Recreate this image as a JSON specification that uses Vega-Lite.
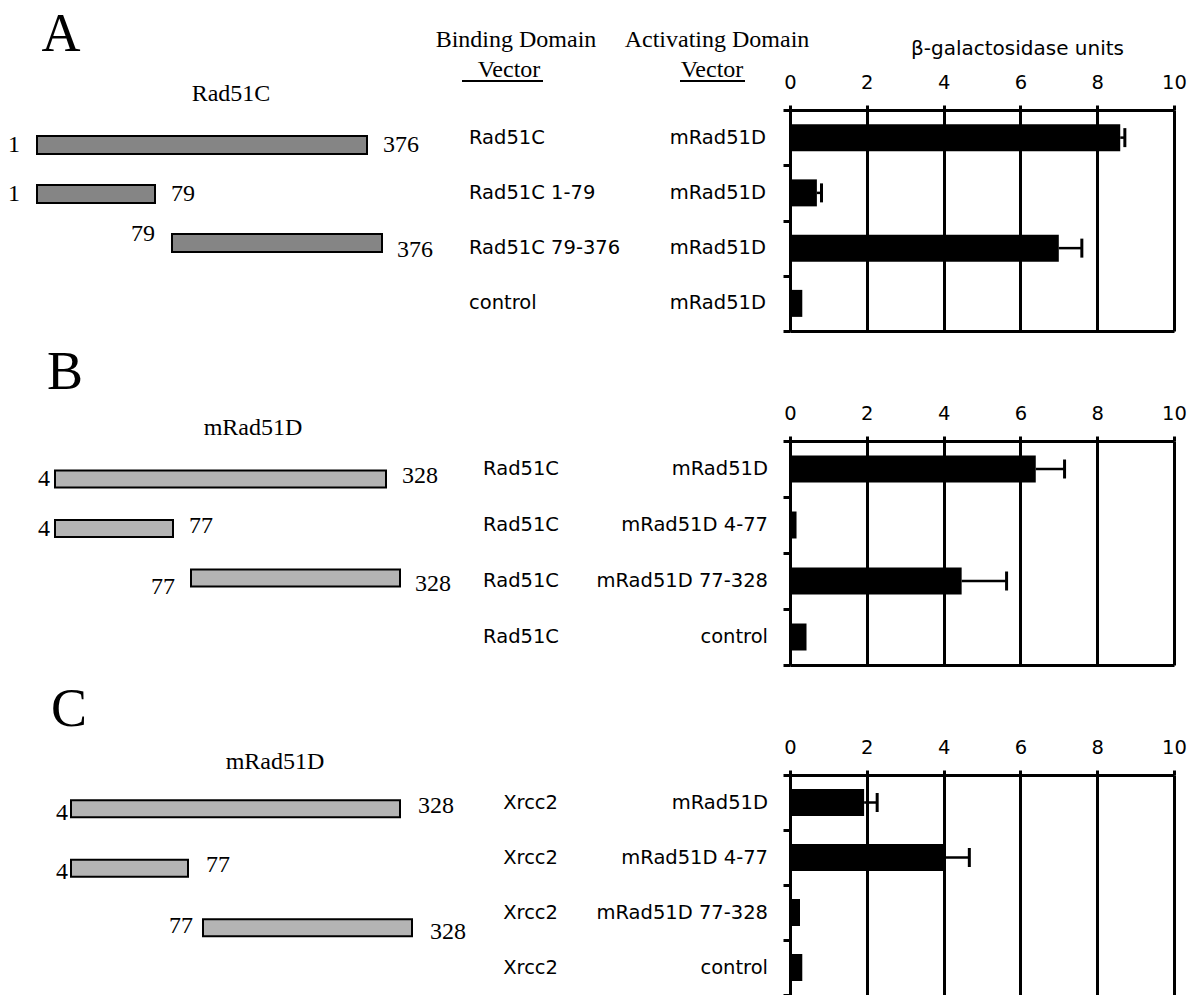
{
  "$schema": "https://vega.github.io/schema/vega-lite/v6.json",
  "width": 1194,
  "height": 995,
  "autosize": "none",
  "padding": 0,
  "background": "white",
  "config": {
    "view": {"stroke": null},
    "axis": {"domainColor": "black", "tickColor": "black", "labelColor": "black", "titleColor": "black"}
  },
  "datasets": {
    "bars": [
      {"panel": "A", "row": "1", "bd": "Rad51C", "ad": "mRad51D", "value": 8.6, "upper": 8.72},
      {"panel": "A", "row": "2", "bd": "Rad51C 1-79", "ad": "mRad51D", "value": 0.7, "upper": 0.82},
      {"panel": "A", "row": "3", "bd": "Rad51C 79-376", "ad": "mRad51D", "value": 7.0, "upper": 7.6},
      {"panel": "A", "row": "4", "bd": "control", "ad": "mRad51D", "value": 0.32, "upper": null},
      {"panel": "B", "row": "1", "bd": "Rad51C", "ad": "mRad51D", "value": 6.4, "upper": 7.15},
      {"panel": "B", "row": "2", "bd": "Rad51C", "ad": "mRad51D 4-77", "value": 0.17, "upper": null},
      {"panel": "B", "row": "3", "bd": "Rad51C", "ad": "mRad51D 77-328", "value": 4.47, "upper": 5.64},
      {"panel": "B", "row": "4", "bd": "Rad51C", "ad": "control", "value": 0.43, "upper": null},
      {"panel": "C", "row": "1", "bd": "Xrcc2", "ad": "mRad51D", "value": 1.93, "upper": 2.27},
      {"panel": "C", "row": "2", "bd": "Xrcc2", "ad": "mRad51D 4-77", "value": 3.99, "upper": 4.67},
      {"panel": "C", "row": "3", "bd": "Xrcc2", "ad": "mRad51D 77-328", "value": 0.26, "upper": null},
      {"panel": "C", "row": "4", "bd": "Xrcc2", "ad": "control", "value": 0.32, "upper": null}
    ],
    "frags": [
      {"panel": "A", "row": "1", "start": 1, "end": 376},
      {"panel": "A", "row": "2", "start": 1, "end": 79},
      {"panel": "A", "row": "3", "start": 79, "end": 376},
      {"panel": "B", "row": "1", "start": 4, "end": 328},
      {"panel": "B", "row": "2", "start": 4, "end": 77},
      {"panel": "B", "row": "3", "start": 77, "end": 328},
      {"panel": "C", "row": "1", "start": 4, "end": 328},
      {"panel": "C", "row": "2", "start": 4, "end": 77},
      {"panel": "C", "row": "3", "start": 77, "end": 328}
    ],
    "panels": [
      {"panel": "A", "protein": "Rad51C"},
      {"panel": "B", "protein": "mRad51D"},
      {"panel": "C", "protein": "mRad51D"}
    ],
    "headers": [
      {"col": "BD", "line": "1", "text": "Binding Domain"},
      {"col": "BD", "line": "2", "text": "Vector"},
      {"col": "AD", "line": "1", "text": "Activating Domain"},
      {"col": "AD", "line": "2", "text": "Vector"}
    ]
  },
  "resolve": {
    "scale": {"x": "independent", "y": "independent", "size": "independent"},
    "axis": {"x": "independent", "y": "independent"}
  },
  "layer": [
    {
      "data": {"name": "panels"},
      "mark": {"type": "text", "font": "Liberation Serif", "fontSize": 54, "baseline": "alphabetic", "align": "center", "color": "black"},
      "encoding": {
        "x": {"field": "panel", "type": "nominal", "scale": {"type": "point", "domain": ["A", "B", "C"], "range": [61, 69], "padding": 0}, "axis": null},
        "y": {"field": "panel", "type": "nominal", "scale": {"type": "point", "domain": ["A", "B", "C"], "range": [51, 726], "padding": 0}, "axis": null},
        "text": {"field": "panel"}
      }
    },
    {
      "data": {"name": "panels"},
      "mark": {"type": "text", "font": "Liberation Serif", "fontSize": 24, "baseline": "middle", "align": "center", "color": "black"},
      "encoding": {
        "x": {"field": "panel", "type": "nominal", "scale": {"type": "point", "domain": ["A", "B", "C"], "range": [231, 275], "padding": 0}, "axis": null},
        "y": {"field": "panel", "type": "nominal", "scale": {"type": "point", "domain": ["A", "B", "C"], "range": [94, 762], "padding": 0}, "axis": null},
        "text": {"field": "protein"}
      }
    },
    {
      "data": {"name": "headers"},
      "transform": [{"filter": "datum.line === '1'"}],
      "mark": {"type": "text", "font": "Liberation Serif", "fontSize": 24, "baseline": "alphabetic", "align": "center", "color": "black"},
      "encoding": {
        "x": {"field": "col", "type": "nominal", "scale": {"type": "point", "domain": ["BD", "AD"], "range": [516, 717], "padding": 0}, "axis": null},
        "y": {"field": "line", "type": "nominal", "scale": {"type": "point", "domain": ["1", "2"], "range": [47, 77], "padding": 0}, "axis": null},
        "text": {"field": "text"}
      }
    },
    {
      "data": {"name": "headers"},
      "transform": [{"filter": "datum.line === '2'"}],
      "mark": {"type": "text", "font": "Liberation Serif", "fontSize": 24, "baseline": "alphabetic", "align": "center", "color": "black"},
      "encoding": {
        "x": {"field": "col", "type": "nominal", "scale": {"type": "point", "domain": ["BD", "AD"], "range": [509, 712], "padding": 0}, "axis": null},
        "y": {"field": "line", "type": "nominal", "scale": {"type": "point", "domain": ["1", "2"], "range": [47, 77], "padding": 0}, "axis": null},
        "text": {"field": "text"}
      }
    },
    {
      "data": {"name": "headers"},
      "transform": [{"filter": "datum.line === '2'"}],
      "mark": {"type": "tick", "orient": "horizontal", "thickness": 2, "color": "black", "yOffset": 4, "opacity": 1},
      "encoding": {
        "x": {"field": "col", "type": "nominal", "scale": {"type": "point", "domain": ["BD", "AD"], "range": [502.5, 712.5], "padding": 0}, "axis": null},
        "y": {"field": "line", "type": "nominal", "scale": {"type": "point", "domain": ["1", "2"], "range": [47, 77], "padding": 0}, "axis": null},
        "size": {"field": "col", "type": "ordinal", "scale": {"domain": ["BD", "AD"], "range": [81, 65]}, "legend": null}
      }
    },

    {
      "data": {"name": "frags"},
      "transform": [{"filter": "datum.panel === 'A' && datum.row !== '3'"}],
      "mark": {"type": "bar", "height": 18, "fill": "#858585", "stroke": "black", "strokeWidth": 2},
      "encoding": {
        "x": {"field": "start", "type": "quantitative", "scale": {"domain": [1, 79, 376], "range": [37, 155, 367], "zero": false, "nice": false}, "axis": null},
        "x2": {"field": "end"},
        "y": {"field": "row", "type": "nominal", "scale": {"type": "band", "domain": ["1", "2", "3"], "range": [120.5, 267.5], "paddingInner": 0, "paddingOuter": 0}, "axis": null}
      }
    },
    {
      "data": {"name": "frags"},
      "transform": [{"filter": "datum.panel === 'A' && datum.row !== '3'"}],
      "mark": {"type": "text", "font": "Liberation Serif", "fontSize": 24, "baseline": "middle", "align": "right", "dx": -17, "color": "black"},
      "encoding": {
        "x": {"field": "start", "type": "quantitative", "scale": {"domain": [1, 79, 376], "range": [37, 155, 367], "zero": false, "nice": false}, "axis": null},
        "y": {"field": "row", "type": "nominal", "scale": {"type": "band", "domain": ["1", "2", "3"], "range": [120.5, 267.5], "paddingInner": 0, "paddingOuter": 0}, "axis": null},
        "text": {"field": "start"}
      }
    },
    {
      "data": {"name": "frags"},
      "transform": [{"filter": "datum.panel === 'A' && datum.row !== '3'"}],
      "mark": {"type": "text", "font": "Liberation Serif", "fontSize": 24, "baseline": "middle", "align": "left", "dx": 16, "color": "black"},
      "encoding": {
        "x": {"field": "end", "type": "quantitative", "scale": {"domain": [1, 79, 376], "range": [37, 155, 367], "zero": false, "nice": false}, "axis": null},
        "y": {"field": "row", "type": "nominal", "scale": {"type": "band", "domain": ["1", "2", "3"], "range": [120.5, 267.5], "paddingInner": 0, "paddingOuter": 0}, "axis": null},
        "text": {"field": "end"}
      }
    },
    {
      "data": {"name": "frags"},
      "transform": [{"filter": "datum.panel === 'A' && datum.row === '3'"}],
      "mark": {"type": "bar", "height": 18, "fill": "#858585", "stroke": "black", "strokeWidth": 2},
      "encoding": {
        "x": {"field": "start", "type": "quantitative", "scale": {"domain": [79, 376], "range": [172, 382], "zero": false, "nice": false}, "axis": null},
        "x2": {"field": "end"},
        "y": {"field": "row", "type": "nominal", "scale": {"type": "band", "domain": ["1", "2", "3"], "range": [120.5, 267.5], "paddingInner": 0, "paddingOuter": 0}, "axis": null}
      }
    },
    {
      "data": {"name": "frags"},
      "transform": [{"filter": "datum.panel === 'A' && datum.row === '3'"}],
      "mark": {"type": "text", "font": "Liberation Serif", "fontSize": 24, "baseline": "middle", "align": "right", "dx": -17, "dy": -9, "color": "black"},
      "encoding": {
        "x": {"field": "start", "type": "quantitative", "scale": {"domain": [79, 376], "range": [172, 382], "zero": false, "nice": false}, "axis": null},
        "y": {"field": "row", "type": "nominal", "scale": {"type": "band", "domain": ["1", "2", "3"], "range": [120.5, 267.5], "paddingInner": 0, "paddingOuter": 0}, "axis": null},
        "text": {"field": "start"}
      }
    },
    {
      "data": {"name": "frags"},
      "transform": [{"filter": "datum.panel === 'A' && datum.row === '3'"}],
      "mark": {"type": "text", "font": "Liberation Serif", "fontSize": 24, "baseline": "middle", "align": "left", "dx": 15, "dy": 7, "color": "black"},
      "encoding": {
        "x": {"field": "end", "type": "quantitative", "scale": {"domain": [79, 376], "range": [172, 382], "zero": false, "nice": false}, "axis": null},
        "y": {"field": "row", "type": "nominal", "scale": {"type": "band", "domain": ["1", "2", "3"], "range": [120.5, 267.5], "paddingInner": 0, "paddingOuter": 0}, "axis": null},
        "text": {"field": "end"}
      }
    },

    {
      "data": {"name": "frags"},
      "transform": [{"filter": "datum.panel === 'B' && datum.row !== '3'"}],
      "mark": {"type": "bar", "height": 17, "fill": "#b4b4b4", "stroke": "black", "strokeWidth": 2},
      "encoding": {
        "x": {"field": "start", "type": "quantitative", "scale": {"domain": [4, 77, 328], "range": [55, 173, 386], "zero": false, "nice": false}, "axis": null},
        "x2": {"field": "end"},
        "y": {"field": "row", "type": "nominal", "scale": {"type": "band", "domain": ["1", "2", "3"], "range": [454.25, 602.75], "paddingInner": 0, "paddingOuter": 0}, "axis": null}
      }
    },
    {
      "data": {"name": "frags"},
      "transform": [{"filter": "datum.panel === 'B' && datum.row !== '3'"}],
      "mark": {"type": "text", "font": "Liberation Serif", "fontSize": 24, "baseline": "middle", "align": "right", "dx": -5, "color": "black"},
      "encoding": {
        "x": {"field": "start", "type": "quantitative", "scale": {"domain": [4, 77, 328], "range": [55, 173, 386], "zero": false, "nice": false}, "axis": null},
        "y": {"field": "row", "type": "nominal", "scale": {"type": "band", "domain": ["1", "2", "3"], "range": [454.25, 602.75], "paddingInner": 0, "paddingOuter": 0}, "axis": null},
        "text": {"field": "start"}
      }
    },
    {
      "data": {"name": "frags"},
      "transform": [{"filter": "datum.panel === 'B' && datum.row !== '3'"}],
      "mark": {"type": "text", "font": "Liberation Serif", "fontSize": 24, "baseline": "middle", "align": "left", "dx": 16, "dy": -3, "color": "black"},
      "encoding": {
        "x": {"field": "end", "type": "quantitative", "scale": {"domain": [4, 77, 328], "range": [55, 173, 386], "zero": false, "nice": false}, "axis": null},
        "y": {"field": "row", "type": "nominal", "scale": {"type": "band", "domain": ["1", "2", "3"], "range": [454.25, 602.75], "paddingInner": 0, "paddingOuter": 0}, "axis": null},
        "text": {"field": "end"}
      }
    },
    {
      "data": {"name": "frags"},
      "transform": [{"filter": "datum.panel === 'B' && datum.row === '3'"}],
      "mark": {"type": "bar", "height": 17, "fill": "#b4b4b4", "stroke": "black", "strokeWidth": 2},
      "encoding": {
        "x": {"field": "start", "type": "quantitative", "scale": {"domain": [77, 328], "range": [191, 400], "zero": false, "nice": false}, "axis": null},
        "x2": {"field": "end"},
        "y": {"field": "row", "type": "nominal", "scale": {"type": "band", "domain": ["1", "2", "3"], "range": [454.25, 602.75], "paddingInner": 0, "paddingOuter": 0}, "axis": null}
      }
    },
    {
      "data": {"name": "frags"},
      "transform": [{"filter": "datum.panel === 'B' && datum.row === '3'"}],
      "mark": {"type": "text", "font": "Liberation Serif", "fontSize": 24, "baseline": "middle", "align": "right", "dx": -16, "dy": 9, "color": "black"},
      "encoding": {
        "x": {"field": "start", "type": "quantitative", "scale": {"domain": [77, 328], "range": [191, 400], "zero": false, "nice": false}, "axis": null},
        "y": {"field": "row", "type": "nominal", "scale": {"type": "band", "domain": ["1", "2", "3"], "range": [454.25, 602.75], "paddingInner": 0, "paddingOuter": 0}, "axis": null},
        "text": {"field": "start"}
      }
    },
    {
      "data": {"name": "frags"},
      "transform": [{"filter": "datum.panel === 'B' && datum.row === '3'"}],
      "mark": {"type": "text", "font": "Liberation Serif", "fontSize": 24, "baseline": "middle", "align": "left", "dx": 15, "dy": 6, "color": "black"},
      "encoding": {
        "x": {"field": "end", "type": "quantitative", "scale": {"domain": [77, 328], "range": [191, 400], "zero": false, "nice": false}, "axis": null},
        "y": {"field": "row", "type": "nominal", "scale": {"type": "band", "domain": ["1", "2", "3"], "range": [454.25, 602.75], "paddingInner": 0, "paddingOuter": 0}, "axis": null},
        "text": {"field": "end"}
      }
    },

    {
      "data": {"name": "frags"},
      "transform": [{"filter": "datum.panel === 'C' && datum.row !== '3'"}],
      "mark": {"type": "bar", "height": 17, "fill": "#b4b4b4", "stroke": "black", "strokeWidth": 2},
      "encoding": {
        "x": {"field": "start", "type": "quantitative", "scale": {"domain": [4, 77, 328], "range": [71, 188, 400], "zero": false, "nice": false}, "axis": null},
        "x2": {"field": "end"},
        "y": {"field": "row", "type": "nominal", "scale": {"type": "band", "domain": ["1", "2", "3"], "range": [779, 957.5], "paddingInner": 0, "paddingOuter": 0}, "axis": null}
      }
    },
    {
      "data": {"name": "frags"},
      "transform": [{"filter": "datum.panel === 'C' && datum.row !== '3'"}],
      "mark": {"type": "text", "font": "Liberation Serif", "fontSize": 24, "baseline": "middle", "align": "right", "dx": -3, "dy": 4, "color": "black"},
      "encoding": {
        "x": {"field": "start", "type": "quantitative", "scale": {"domain": [4, 77, 328], "range": [71, 188, 400], "zero": false, "nice": false}, "axis": null},
        "y": {"field": "row", "type": "nominal", "scale": {"type": "band", "domain": ["1", "2", "3"], "range": [779, 957.5], "paddingInner": 0, "paddingOuter": 0}, "axis": null},
        "text": {"field": "start"}
      }
    },
    {
      "data": {"name": "frags"},
      "transform": [{"filter": "datum.panel === 'C' && datum.row !== '3'"}],
      "mark": {"type": "text", "font": "Liberation Serif", "fontSize": 24, "baseline": "middle", "align": "left", "dx": 18, "dy": -3, "color": "black"},
      "encoding": {
        "x": {"field": "end", "type": "quantitative", "scale": {"domain": [4, 77, 328], "range": [71, 188, 400], "zero": false, "nice": false}, "axis": null},
        "y": {"field": "row", "type": "nominal", "scale": {"type": "band", "domain": ["1", "2", "3"], "range": [779, 957.5], "paddingInner": 0, "paddingOuter": 0}, "axis": null},
        "text": {"field": "end"}
      }
    },
    {
      "data": {"name": "frags"},
      "transform": [{"filter": "datum.panel === 'C' && datum.row === '3'"}],
      "mark": {"type": "bar", "height": 17, "fill": "#b4b4b4", "stroke": "black", "strokeWidth": 2},
      "encoding": {
        "x": {"field": "start", "type": "quantitative", "scale": {"domain": [77, 328], "range": [203, 412], "zero": false, "nice": false}, "axis": null},
        "x2": {"field": "end"},
        "y": {"field": "row", "type": "nominal", "scale": {"type": "band", "domain": ["1", "2", "3"], "range": [779, 957.5], "paddingInner": 0, "paddingOuter": 0}, "axis": null}
      }
    },
    {
      "data": {"name": "frags"},
      "transform": [{"filter": "datum.panel === 'C' && datum.row === '3'"}],
      "mark": {"type": "text", "font": "Liberation Serif", "fontSize": 24, "baseline": "middle", "align": "right", "dx": -10, "dy": -2, "color": "black"},
      "encoding": {
        "x": {"field": "start", "type": "quantitative", "scale": {"domain": [77, 328], "range": [203, 412], "zero": false, "nice": false}, "axis": null},
        "y": {"field": "row", "type": "nominal", "scale": {"type": "band", "domain": ["1", "2", "3"], "range": [779, 957.5], "paddingInner": 0, "paddingOuter": 0}, "axis": null},
        "text": {"field": "start"}
      }
    },
    {
      "data": {"name": "frags"},
      "transform": [{"filter": "datum.panel === 'C' && datum.row === '3'"}],
      "mark": {"type": "text", "font": "Liberation Serif", "fontSize": 24, "baseline": "middle", "align": "left", "dx": 18, "dy": 4, "color": "black"},
      "encoding": {
        "x": {"field": "end", "type": "quantitative", "scale": {"domain": [77, 328], "range": [203, 412], "zero": false, "nice": false}, "axis": null},
        "y": {"field": "row", "type": "nominal", "scale": {"type": "band", "domain": ["1", "2", "3"], "range": [779, 957.5], "paddingInner": 0, "paddingOuter": 0}, "axis": null},
        "text": {"field": "end"}
      }
    },

    {
      "data": {"name": "bars"},
      "transform": [{"filter": "datum.panel === 'A'"}],
      "mark": {"type": "text", "font": "DejaVu Sans", "fontSize": 19.5, "baseline": "middle", "align": "left", "color": "black"},
      "encoding": {
        "x": {"datum": "BD", "type": "nominal", "scale": {"type": "point", "domain": ["BD", "AD"], "range": [469, 766], "padding": 0}, "axis": null},
        "y": {"field": "row", "type": "nominal", "scale": {"type": "band", "domain": ["1", "2", "3", "4"], "range": [110, 331], "paddingInner": 0, "paddingOuter": 0}, "axis": null},
        "text": {"field": "bd"}
      }
    },
    {
      "data": {"name": "bars"},
      "transform": [{"filter": "datum.panel === 'A'"}],
      "mark": {"type": "text", "font": "DejaVu Sans", "fontSize": 19.5, "baseline": "middle", "align": "right", "color": "black"},
      "encoding": {
        "x": {"datum": "AD", "type": "nominal", "scale": {"type": "point", "domain": ["BD", "AD"], "range": [469, 766], "padding": 0}, "axis": null},
        "y": {"field": "row", "type": "nominal", "scale": {"type": "band", "domain": ["1", "2", "3", "4"], "range": [110, 331], "paddingInner": 0, "paddingOuter": 0}, "axis": null},
        "text": {"field": "ad"}
      }
    },
    {
      "data": {"name": "bars"},
      "transform": [{"filter": "datum.panel === 'B'"}],
      "mark": {"type": "text", "font": "DejaVu Sans", "fontSize": 19.5, "baseline": "middle", "align": "right", "color": "black"},
      "encoding": {
        "x": {"datum": "BD", "type": "nominal", "scale": {"type": "point", "domain": ["BD", "AD"], "range": [559, 768], "padding": 0}, "axis": null},
        "y": {"field": "row", "type": "nominal", "scale": {"type": "band", "domain": ["1", "2", "3", "4"], "range": [441, 665], "paddingInner": 0, "paddingOuter": 0}, "axis": null},
        "text": {"field": "bd"}
      }
    },
    {
      "data": {"name": "bars"},
      "transform": [{"filter": "datum.panel === 'B'"}],
      "mark": {"type": "text", "font": "DejaVu Sans", "fontSize": 19.5, "baseline": "middle", "align": "right", "color": "black"},
      "encoding": {
        "x": {"datum": "AD", "type": "nominal", "scale": {"type": "point", "domain": ["BD", "AD"], "range": [559, 768], "padding": 0}, "axis": null},
        "y": {"field": "row", "type": "nominal", "scale": {"type": "band", "domain": ["1", "2", "3", "4"], "range": [441, 665], "paddingInner": 0, "paddingOuter": 0}, "axis": null},
        "text": {"field": "ad"}
      }
    },
    {
      "data": {"name": "bars"},
      "transform": [{"filter": "datum.panel === 'C'"}],
      "mark": {"type": "text", "font": "DejaVu Sans", "fontSize": 19.5, "baseline": "middle", "align": "right", "color": "black"},
      "encoding": {
        "x": {"datum": "BD", "type": "nominal", "scale": {"type": "point", "domain": ["BD", "AD"], "range": [558, 768], "padding": 0}, "axis": null},
        "y": {"field": "row", "type": "nominal", "scale": {"type": "band", "domain": ["1", "2", "3", "4"], "range": [775, 995], "paddingInner": 0, "paddingOuter": 0}, "axis": null},
        "text": {"field": "bd"}
      }
    },
    {
      "data": {"name": "bars"},
      "transform": [{"filter": "datum.panel === 'C'"}],
      "mark": {"type": "text", "font": "DejaVu Sans", "fontSize": 19.5, "baseline": "middle", "align": "right", "color": "black"},
      "encoding": {
        "x": {"datum": "AD", "type": "nominal", "scale": {"type": "point", "domain": ["BD", "AD"], "range": [558, 768], "padding": 0}, "axis": null},
        "y": {"field": "row", "type": "nominal", "scale": {"type": "band", "domain": ["1", "2", "3", "4"], "range": [775, 995], "paddingInner": 0, "paddingOuter": 0}, "axis": null},
        "text": {"field": "ad"}
      }
    },

    {
      "data": {"name": "bars"},
      "transform": [{"filter": "datum.panel === 'A'"}],
      "mark": {"type": "bar", "color": "black", "height": 27},
      "encoding": {
        "x": {"field": "value", "type": "quantitative", "scale": {"domain": [0, 10], "range": [790, 1174], "nice": false},
          "axis": {"orient": "top", "offset": -110, "values": [0, 2, 4, 6, 8, 10], "grid": true, "gridColor": "black", "gridWidth": 3, "gridOpacity": 1, "domainWidth": 3, "tickSize": 5, "tickWidth": 3, "labelFont": "DejaVu Sans", "labelFontSize": 19.5, "labelPadding": 13, "labelFlush": false, "labelOverlap": false, "labelBound": false, "title": "β-galactosidase units", "titleFont": "DejaVu Sans", "titleFontSize": 20, "titleFontWeight": "normal", "titlePadding": 14, "titleX": 1017}},
        "y": {"field": "row", "type": "nominal", "scale": {"type": "band", "domain": ["1", "2", "3", "4"], "range": [110, 331], "paddingInner": 0, "paddingOuter": 0},
          "axis": {"orient": "left", "offset": -790, "labels": false, "ticks": true, "tickSize": 7, "tickWidth": 3, "tickBand": "extent", "domainWidth": 3, "grid": false, "title": null}}
      }
    },
    {
      "data": {"name": "bars"},
      "transform": [{"filter": "datum.panel === 'A' && datum.upper != null"}],
      "mark": {"type": "rule", "color": "black", "strokeWidth": 2.5},
      "encoding": {
        "x": {"field": "value", "type": "quantitative", "scale": {"domain": [0, 10], "range": [790, 1174], "nice": false},
          "axis": {"orient": "bottom", "offset": -664, "labels": false, "ticks": false, "grid": false, "domain": true, "domainWidth": 3, "title": null}},
        "x2": {"field": "upper"},
        "y": {"field": "row", "type": "nominal", "scale": {"type": "band", "domain": ["1", "2", "3", "4"], "range": [110, 331], "paddingInner": 0, "paddingOuter": 0}, "axis": null}
      }
    },
    {
      "data": {"name": "bars"},
      "transform": [{"filter": "datum.panel === 'A' && datum.upper != null"}],
      "mark": {"type": "tick", "orient": "vertical", "color": "black", "thickness": 3, "size": 19, "opacity": 1},
      "encoding": {
        "x": {"field": "upper", "type": "quantitative", "scale": {"domain": [0, 10], "range": [790, 1174], "nice": false}, "axis": null},
        "y": {"field": "row", "type": "nominal", "scale": {"type": "band", "domain": ["1", "2", "3", "4"], "range": [110, 331], "paddingInner": 0, "paddingOuter": 0}, "axis": null}
      }
    },

    {
      "data": {"name": "bars"},
      "transform": [{"filter": "datum.panel === 'B'"}],
      "mark": {"type": "bar", "color": "black", "height": 27},
      "encoding": {
        "x": {"field": "value", "type": "quantitative", "scale": {"domain": [0, 10], "range": [790, 1174], "nice": false},
          "axis": {"orient": "top", "offset": -441, "values": [0, 2, 4, 6, 8, 10], "grid": true, "gridColor": "black", "gridWidth": 3, "gridOpacity": 1, "domainWidth": 3, "tickSize": 5, "tickWidth": 3, "labelFont": "DejaVu Sans", "labelFontSize": 19.5, "labelPadding": 13, "labelFlush": false, "labelOverlap": false, "labelBound": false, "title": null}},
        "y": {"field": "row", "type": "nominal", "scale": {"type": "band", "domain": ["1", "2", "3", "4"], "range": [441, 665], "paddingInner": 0, "paddingOuter": 0},
          "axis": {"orient": "left", "offset": -790, "labels": false, "ticks": true, "tickSize": 7, "tickWidth": 3, "tickBand": "extent", "domainWidth": 3, "grid": false, "title": null}}
      }
    },
    {
      "data": {"name": "bars"},
      "transform": [{"filter": "datum.panel === 'B' && datum.upper != null"}],
      "mark": {"type": "rule", "color": "black", "strokeWidth": 2.5},
      "encoding": {
        "x": {"field": "value", "type": "quantitative", "scale": {"domain": [0, 10], "range": [790, 1174], "nice": false},
          "axis": {"orient": "bottom", "offset": -330, "labels": false, "ticks": false, "grid": false, "domain": true, "domainWidth": 3, "title": null}},
        "x2": {"field": "upper"},
        "y": {"field": "row", "type": "nominal", "scale": {"type": "band", "domain": ["1", "2", "3", "4"], "range": [441, 665], "paddingInner": 0, "paddingOuter": 0}, "axis": null}
      }
    },
    {
      "data": {"name": "bars"},
      "transform": [{"filter": "datum.panel === 'B' && datum.upper != null"}],
      "mark": {"type": "tick", "orient": "vertical", "color": "black", "thickness": 3, "size": 19, "opacity": 1},
      "encoding": {
        "x": {"field": "upper", "type": "quantitative", "scale": {"domain": [0, 10], "range": [790, 1174], "nice": false}, "axis": null},
        "y": {"field": "row", "type": "nominal", "scale": {"type": "band", "domain": ["1", "2", "3", "4"], "range": [441, 665], "paddingInner": 0, "paddingOuter": 0}, "axis": null}
      }
    },

    {
      "data": {"name": "bars"},
      "transform": [{"filter": "datum.panel === 'C'"}],
      "mark": {"type": "bar", "color": "black", "height": 27},
      "encoding": {
        "x": {"field": "value", "type": "quantitative", "scale": {"domain": [0, 10], "range": [790, 1174], "nice": false},
          "axis": {"orient": "top", "offset": -775, "values": [0, 2, 4, 6, 8, 10], "grid": true, "gridColor": "black", "gridWidth": 3, "gridOpacity": 1, "domainWidth": 3, "tickSize": 5, "tickWidth": 3, "labelFont": "DejaVu Sans", "labelFontSize": 19.5, "labelPadding": 13, "labelFlush": false, "labelOverlap": false, "labelBound": false, "title": null}},
        "y": {"field": "row", "type": "nominal", "scale": {"type": "band", "domain": ["1", "2", "3", "4"], "range": [775, 995], "paddingInner": 0, "paddingOuter": 0},
          "axis": {"orient": "left", "offset": -790, "labels": false, "ticks": true, "tickSize": 7, "tickWidth": 3, "tickBand": "extent", "domainWidth": 3, "grid": false, "title": null}}
      }
    },
    {
      "data": {"name": "bars"},
      "transform": [{"filter": "datum.panel === 'C' && datum.upper != null"}],
      "mark": {"type": "rule", "color": "black", "strokeWidth": 2.5},
      "encoding": {
        "x": {"field": "value", "type": "quantitative", "scale": {"domain": [0, 10], "range": [790, 1174], "nice": false}, "axis": null},
        "x2": {"field": "upper"},
        "y": {"field": "row", "type": "nominal", "scale": {"type": "band", "domain": ["1", "2", "3", "4"], "range": [775, 995], "paddingInner": 0, "paddingOuter": 0}, "axis": null}
      }
    },
    {
      "data": {"name": "bars"},
      "transform": [{"filter": "datum.panel === 'C' && datum.upper != null"}],
      "mark": {"type": "tick", "orient": "vertical", "color": "black", "thickness": 3, "size": 19, "opacity": 1},
      "encoding": {
        "x": {"field": "upper", "type": "quantitative", "scale": {"domain": [0, 10], "range": [790, 1174], "nice": false}, "axis": null},
        "y": {"field": "row", "type": "nominal", "scale": {"type": "band", "domain": ["1", "2", "3", "4"], "range": [775, 995], "paddingInner": 0, "paddingOuter": 0}, "axis": null}
      }
    }
  ]
}
